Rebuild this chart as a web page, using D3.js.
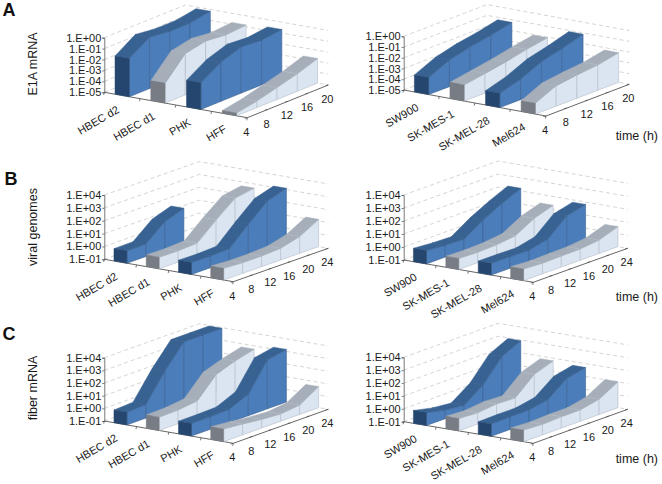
<!DOCTYPE html>
<html><head><meta charset="utf-8">
<script src="https://cdn.jsdelivr.net/npm/d3@7"></script>
<style>html,body{margin:0;padding:0;background:#fff}svg{display:block}text{font-family:"Liberation Sans",Arial,sans-serif}</style>
</head><body><div id="chart"></div>
<script>
// categories and time points
const primaryCells = ["HBEC d2","HBEC d1","PHK","HFF"];
const tumorCells = ["SW900","SK-MES-1","SK-MEL-28","Mel624"];
const timesA = [4,8,12,16,20];
const timesBC = [4,8,12,16,20,24];
const exponentsA = [-5,-4,-3,-2,-1,0];
const exponentsBC = [-1,0,1,2,3,4];
const tickLabelsA = ["1.E-05","1.E-04","1.E-03","1.E-02","1.E-01","1.E+00"];
const tickLabelsBC = ["1.E-01","1.E+00","1.E+01","1.E+02","1.E+03","1.E+04"];
// series values, log10 of the plotted quantity, one row per cell type
const e1aPrimary = [
  [-1.5,-0.28,-0.5,-0.49,-0.16],
  [-3.19,-1.2,-0.81,-1.01,-0.84],
  [-2.56,-1.4,-0.76,-0.9,-0.67],
  [-4.75,-4.4,-3.9,-3.4,-2.75]];
const e1aTumor = [
  [-3.42,-2.52,-2.02,-1.67,-1.23],
  [-3.5,-3.17,-2.82,-2.4,-2.05],
  [-3.67,-3.08,-2.2,-1.7,-1.12],
  [-4.0,-3.1,-2.83,-2.64,-2.24]];
const genomesPrimary = [
  [-0.04,-0.02,1.2,1.72],
  [-0.1,-0.12,-0.04,1.25,2.42,2.68],
  [-0.07,-0.09,-0.02,1.36,2.65,3.1],
  [-0.09,-0.17,-0.17,-0.09,0.3,1.12]];
const genomesTumor = [
  [0.03,-0.08,-0.13,0.8,1.56,2.2],
  [-0.15,-0.2,-0.15,0.03,0.85,1.33],
  [-0.1,-0.1,-0.13,0.2,1.46,1.82],
  [-0.1,-0.18,-0.15,-0.13,0.03,0.54]];
const fiberPrimary = [
  [0.0,0.08,2.18,3.95,3.95,3.95],
  [0.05,0.08,0.26,1.82,2.34,2.74],
  [0.0,0.0,0.05,0.71,2.87,3.16],
  [0.0,-0.14,-0.32,-0.42,-0.26,0.66]];
const fiberTumor = [
  [0.0,-0.33,-0.48,0.55,2.24,2.94],
  [-0.04,-0.12,0.04,-0.02,1.28,1.8],
  [-0.04,-0.01,-0.01,0.27,1.38,1.7],
  [-0.1,-0.18,-0.12,-0.12,0.19,1.02]];
const blueStyle = {right:"#4b7dba",top:"#386292",front:"#24466f",line:"#3a5f8e"};
const greyStyle = {right:"#dbe5f1",top:"#a5aeb9",front:"#787c84",line:"#b3bcc8"};
const seriesStyles = [blueStyle,greyStyle,blueStyle,greyStyle];

const panels = [
 {cats:primaryCells,times:timesA,exps:exponentsA,labels:tickLabelsA,data:e1aPrimary,o:[104.3,92.3],top:37.7,w:[247.3,117.7],d:[328.3,85]},
 {cats:tumorCells,times:timesA,exps:exponentsA,labels:tickLabelsA,data:e1aTumor,o:[403.7,90],top:36.3,w:[546,116],d:[629.3,84.3]},
 {cats:primaryCells,times:timesBC,exps:exponentsBC,labels:tickLabelsBC,data:genomesPrimary,o:[104.3,259.3],top:195,w:[233.3,281.7],d:[328.3,248.3]},
 {cats:tumorCells,times:timesBC,exps:exponentsBC,labels:tickLabelsBC,data:genomesTumor,o:[403.7,260],top:195,w:[533.3,282.3],d:[627.7,248.3]},
 {cats:primaryCells,times:timesBC,exps:exponentsBC,labels:tickLabelsBC,data:fiberPrimary,o:[104.3,421],top:357.7,w:[233.3,443.3],d:[328.3,409.3]},
 {cats:tumorCells,times:timesBC,exps:exponentsBC,labels:tickLabelsBC,data:fiberTumor,o:[403.7,421.7],top:357.3,w:[533.3,443.3],d:[627.7,409.3]}
];

const svg = d3.select("#chart").append("svg").attr("width",662).attr("height",484);
const poly = pts => pts.map(p=>p.map(v=>v.toFixed(2)).join(",")).join(" ");

panels.forEach(p=>{
  const g = svg.append("g");
  const wv=[p.w[0]-p.o[0],p.w[1]-p.o[1]];
  const last = p.times[p.times.length-1];
  const tScale = d3.scaleLinear().domain([p.times[0],last]).range([0,1]);
  const dv=[p.d[0]-p.w[0],p.d[1]-p.w[1]];
  const band = d3.scaleBand().domain(p.cats).range([0,1]).paddingInner(0.6).paddingOuter(0.3);
  const yS = d3.scaleLinear().domain([p.exps[0],p.exps[p.exps.length-1]]).range([p.o[1],p.top]);
  const proj=(c,t,e)=>{
    const tf=tScale(t);
    return [p.o[0]+wv[0]*c+dv[0]*tf, yS(e)+wv[1]*c+dv[1]*tf];
  };
  // wall gridlines
  p.exps.forEach(e=>{
    const a=proj(0,p.times[0],e), b=proj(0,last,e), c=proj(1,last,e);
    g.append("polyline").attr("points",poly([a,b,c])).attr("fill","none")
      .attr("stroke","#c9c9c9").attr("stroke-width",0.8).attr("stroke-dasharray","4 3");
  });
  // floor axes
  const floorY=p.exps[0];
  g.append("polyline").attr("points",poly([proj(0,p.times[0],floorY),proj(1,p.times[0],floorY),proj(1,last,floorY)]))
    .attr("fill","none").attr("stroke","#555").attr("stroke-width",0.9);
  d3.range(p.cats.length+1).forEach(i=>{
    const a=proj(i/p.cats.length,p.times[0],floorY);
    g.append("line").attr("x1",a[0]).attr("y1",a[1]).attr("x2",a[0]-0.6).attr("y2",a[1]+2.6).attr("stroke","#555").attr("stroke-width",0.8);
  });
  p.times.forEach(t=>{
    const a=proj(1,t,floorY);
    g.append("line").attr("x1",a[0]).attr("y1",a[1]).attr("x2",a[0]-2.6).attr("y2",a[1]+0.6).attr("stroke","#555").attr("stroke-width",0.8);
    g.append("text").attr("x",a[0]-1).attr("y",a[1]+18).attr("text-anchor","middle").attr("font-size",11).attr("fill","#1a1a1a").text(t);
  });
  // value axis
  const axis=d3.axisLeft(yS).tickValues(p.exps).tickFormat((d,i)=>p.labels[i]).tickSize(2).tickPadding(1);
  const ag=g.append("g").attr("transform",`translate(${p.o[0]},0)`).call(axis);
  ag.selectAll("path,line").attr("stroke","#555").attr("stroke-width",0.8);
  ag.selectAll("text").attr("font-size",11).attr("fill","#1a1a1a").style("font-family",'"Liberation Sans",Arial,sans-serif');
  // 3D ribbons
  p.data.forEach((vals,s)=>{
    const st=seriesStyles[s];
    const c0=band(p.cats[s]), c1=c0+band.bandwidth();
    const ts=p.times.slice(0,vals.length);
    const sg=g.append("g");
    ts.slice(0,-1).forEach((t,i)=>{
      const t2=ts[i+1];
      sg.append("polygon").attr("points",poly([proj(c1,t,floorY),proj(c1,t,vals[i]),proj(c1,t2,vals[i+1]),proj(c1,t2,floorY)]))
        .attr("fill",st.right).attr("stroke",st.line).attr("stroke-width",0.6);
      sg.append("polygon").attr("points",poly([proj(c0,t,vals[i]),proj(c1,t,vals[i]),proj(c1,t2,vals[i+1]),proj(c0,t2,vals[i+1])]))
        .attr("fill",st.top).attr("stroke",st.top).attr("stroke-width",0.5);
      if(i>0) sg.append("line").datum([proj(c0,t,vals[i]),proj(c1,t,vals[i])])
        .attr("x1",d=>d[0][0]).attr("y1",d=>d[0][1]).attr("x2",d=>d[1][0]).attr("y2",d=>d[1][1])
        .attr("stroke",st.line).attr("stroke-width",0.6);
    });
    sg.append("polygon").attr("points",poly([proj(c0,ts[0],floorY),proj(c0,ts[0],vals[0]),proj(c1,ts[0],vals[0]),proj(c1,ts[0],floorY)]))
      .attr("fill",st.front).attr("stroke",st.front).attr("stroke-width",0.5);
  });
  // category labels
  p.cats.forEach(c=>{
    const a=proj(band(c)+band.bandwidth()/2,p.times[0],floorY);
    g.append("text").attr("transform",`translate(${a[0]-2},${a[1]+16.5}) rotate(-30)`)
      .attr("text-anchor","end").attr("font-size",11).attr("fill","#1a1a1a").text(c);
  });
});
// free text
[["A",2.5,15.7],["B",4.5,185],["C",2.5,340]].forEach(d=>{
  svg.append("text").attr("x",d[1]).attr("y",d[2]).attr("font-size",18).attr("font-weight","bold").attr("fill","#111").text(d[0]);
});
[["E1A mRNA",64],["viral genomes",227],["fiber mRNA",388]].forEach(d=>{
  svg.append("text").attr("transform",`translate(37,${d[1]}) rotate(-90)`).attr("text-anchor","middle").attr("font-size",12.5).attr("fill","#1a1a1a").text(d[0]);
});
[140,301,463].forEach(y=>{
  svg.append("text").attr("x",658).attr("y",y).attr("text-anchor","end").attr("font-size",12.5).attr("fill","#1a1a1a").text("time (h)");
});
</script></body></html>
